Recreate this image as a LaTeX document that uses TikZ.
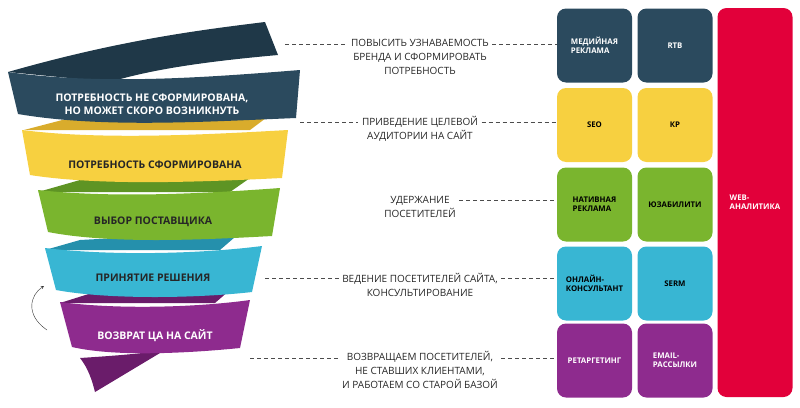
\documentclass[tikz,border=0pt]{standalone}
\usepackage{fontspec}
\setmainfont{Open Sans}
\usetikzlibrary{positioning}
\definecolor{navy}{HTML}{2B4A5E}
\definecolor{navyd}{HTML}{1F3848}
\definecolor{sun}{HTML}{F7D040}
\definecolor{sund}{HTML}{D9AC2C}
\definecolor{leaf}{HTML}{7AB52E}
\definecolor{leafd}{HTML}{5E9424}
\definecolor{sky}{HTML}{38B6D3}
\definecolor{skyd}{HTML}{2590AC}
\definecolor{plum}{HTML}{8E2B8E}
\definecolor{plumd}{HTML}{6A1C6A}
\definecolor{ruby}{HTML}{E2003A}
\tikzset{%
tile/.style={rounded corners=9pt, minimum width=75pt, minimum height=74pt,
  font=\fontsize{7.8}{9}\selectfont\bfseries, align=left, inner sep=0pt},
bandtext/.style={font=\fontsize{10.5}{13}\selectfont\bfseries, align=center},
goal/.style={font=\fontsize{10}{14}\selectfont, align=center, text=black!85},
leader/.style={thick, black!70, dash pattern=on 4pt off 3pt}
}
\begin{document}
\begin{tikzpicture}[x=1pt,y=-1pt]
\useasboundingbox (0,0) rectangle (800,407);

% funnel, back parts first
\fill[navyd] (8,72) .. controls (120,40) and (200,30) .. (265,22) -- (278,55)
  .. controls (200,62) and (150,70) .. (110,82) -- cycle;
\fill[sund] (24,130) -- (70,118) .. controls (150,110) and (220,112) .. (270,115) -- (250,130) -- cycle;
\fill[leafd] (38,192) -- (80,180) .. controls (150,175) and (210,176) .. (250,178) -- (230,192) -- cycle;
\fill[skyd] (45,250) -- (80,240) .. controls (150,236) and (200,236) .. (235,237) -- (220,250) -- cycle;
\fill[plumd] (60,303) -- (95,292) .. controls (150,290) and (200,290) .. (230,290) -- (215,303) -- cycle;
\fill[plumd] (80,358) .. controls (110,356) and (140,354) .. (165,350) -- (95,392)
  .. controls (92,380) and (88,368) .. (80,358) -- cycle;

% funnel, front bands
\fill[navy] (8,72) .. controls (100,85) and (200,78) .. (300,70) -- (296,118)
  .. controls (200,122) and (100,128) .. (18,114) -- cycle;
\fill[sun] (22,130) .. controls (100,140) and (200,135) .. (288,130) -- (282,178)
  .. controls (200,182) and (100,186) .. (30,175) -- cycle;
\fill[leaf] (38,190) .. controls (110,198) and (200,194) .. (280,188) -- (272,236)
  .. controls (200,240) and (110,244) .. (48,232) -- cycle;
\fill[sky] (45,248) .. controls (110,256) and (200,254) .. (262,246) -- (252,292)
  .. controls (200,298) and (110,300) .. (56,290) -- cycle;
\fill[plum] (60,302) .. controls (120,310) and (200,307) .. (250,300) -- (240,348)
  .. controls (200,352) and (120,358) .. (72,347) -- cycle;

\node[bandtext, text=white] (need0) at (152,104) {ПОТРЕБНОСТЬ НЕ СФОРМИРОВАНА,\\НО МОЖЕТ СКОРО ВОЗНИКНУТЬ};
\node[bandtext, text=black!85] (need1) at (155,165) {ПОТРЕБНОСТЬ СФОРМИРОВАНА};
\node[bandtext, text=black!85] (choice) at (153,222) {ВЫБОР ПОСТАВЩИКА};
\node[bandtext, text=black!85] (decide) at (153,278) {ПРИНЯТИЕ РЕШЕНИЯ};
\node[bandtext, text=white] (back) at (155,336) {ВОЗВРАТ ЦА НА САЙТ};

\coordinate (loopa) at (47,330);
\coordinate (loopb) at (44,286);
\draw[-stealth, black!80] (loopa) .. controls (25,315) and (30,295) .. (loopb);

% goals
\node[goal] (g1) at (420,57) {ПОВЫСИТЬ УЗНАВАЕМОСТЬ\\БРЕНДА И СФОРМИРОВАТЬ\\ПОТРЕБНОСТЬ};
\node[goal] (g2) at (420,129) {ПРИВЕДЕНИЕ ЦЕЛЕВОЙ\\АУДИТОРИИ НА САЙТ};
\node[goal] (g3) at (420,207) {УДЕРЖАНИЕ\\ПОСЕТИТЕЛЕЙ};
\node[goal] (g4) at (420,285) {ВЕДЕНИЕ ПОСЕТИТЕЛЕЙ САЙТА,\\КОНСУЛЬТИРОВАНИЕ};
\node[goal] (g5) at (420,370) {ВОЗВРАЩАЕМ ПОСЕТИТЕЛЕЙ,\\НЕ СТАВШИХ КЛИЕНТАМИ,\\И РАБОТАЕМ СО СТАРОЙ БАЗОЙ};

% tiles
\node[tile, fill=navy, text=white] (media) at (594.5,45.5) {МЕДИЙНАЯ\\РЕКЛАМА};
\node[tile, fill=navy, text=white] (rtb) at (675,45.5) {RTB};
\node[tile, fill=sun] (seo) at (594.5,125) {SEO};
\node[tile, fill=sun] (kr) at (675,125) {КР};
\node[tile, fill=leaf] (native) at (594.5,204.5) {НАТИВНАЯ\\РЕКЛАМА};
\node[tile, fill=leaf] (usab) at (675,204.5) {ЮЗАБИЛИТИ};
\node[tile, fill=sky] (online) at (594.5,283.5) {ОНЛАЙН-\\КОНСУЛЬТАНТ};
\node[tile, fill=sky] (serm) at (675,283.5) {SERM};
\node[tile, fill=plum, text=white] (retarg) at (594.5,360.5) {РЕТАРГЕТИНГ};
\node[tile, fill=plum, text=white] (email) at (675,360.5) {EMAIL-\\РАССЫЛКИ};
\node[tile, fill=ruby, text=white, minimum height=389pt] (web) at (755,202.5) {WEB-\\АНАЛИТИКА};

% dashed leaders
\coordinate (d1) at (285,44); \coordinate (d2) at (300,122);
\coordinate (d4) at (300,200); \coordinate (d3) at (265,278);
\coordinate (d5) at (250,358);
\draw[leader] (d1) -- (g1.west|-d1);
\draw[leader] (g1.east|-d1) -- (media.west|-d1);
\draw[leader] (d2) -- (g2.west|-d2);
\draw[leader] (g2.east|-d2) -- (seo.west|-d2);
\draw[leader] (g3.east|-d4) -- (native.west|-d4);
\draw[leader] (d3) -- (g4.west|-d3);
\draw[leader] (g4.east|-d3) -- (online.west|-d3);
\draw[leader] (d5) -- (g5.west|-d5);
\draw[leader] (g5.east|-d5) -- (retarg.west|-d5);
\end{tikzpicture}
\end{document}
